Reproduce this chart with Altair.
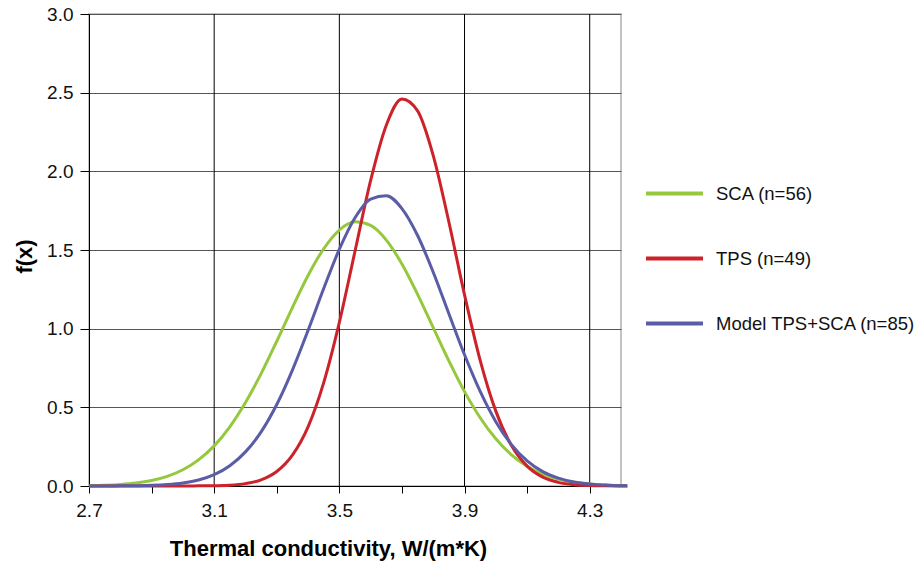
import altair as alt
import pandas as pd

x_vals = [2.70, 2.75, 2.80, 2.85, 2.90, 2.95, 3.00, 3.05, 3.10, 3.15, 3.20, 3.25,
          3.30, 3.35, 3.40, 3.45, 3.50, 3.55, 3.60, 3.65, 3.70, 3.75, 3.80, 3.85,
          3.90, 3.95, 4.00, 4.05, 4.10, 4.15, 4.20, 4.25, 4.30, 4.35, 4.40, 4.42]

sca = [0.002, 0.005, 0.010, 0.019, 0.035, 0.061, 0.103, 0.166, 0.255, 0.376, 0.530, 0.714,
       0.920, 1.134, 1.338, 1.508, 1.627, 1.679, 1.656, 1.563, 1.411, 1.218, 1.006, 0.795,
       0.600, 0.434, 0.300, 0.198, 0.125, 0.076, 0.044, 0.024, 0.013, 0.006, 0.003, 0.002]

tps = [0.000, 0.000, 0.000, 0.000, 0.000, 0.000, 0.000, 0.001, 0.002, 0.005, 0.015, 0.039,
       0.092, 0.196, 0.376, 0.657, 1.040, 1.492, 1.942, 2.293, 2.460, 2.384, 2.100, 1.678,
       1.215, 0.799, 0.476, 0.257, 0.126, 0.056, 0.023, 0.008, 0.003, 0.001, 0.000, 0.000]

model = [0.000, 0.000, 0.001, 0.002, 0.004, 0.009, 0.019, 0.038, 0.072, 0.129, 0.217, 0.344,
         0.518, 0.737, 0.989, 1.255, 1.505, 1.705, 1.824, 1.845, 1.763, 1.592, 1.359, 1.095,
         0.834, 0.601, 0.409, 0.263, 0.159, 0.091, 0.050, 0.025, 0.012, 0.006, 0.002, 0.002]

series_names = ["SCA (n=56)", "TPS (n=49)", "Model TPS+SCA (n=85)"]
series_colors = ["#95c83c", "#cc2229", "#5a5ca6"]

x_ticks = [2.7, 2.9, 3.1, 3.3, 3.5, 3.7, 3.9, 4.1, 4.3]
x_labels = ["2.7", "3.1", "3.5", "3.9", "4.3"]
x_grid = [3.1, 3.5, 3.9, 4.3]
y_ticks = [0.0, 0.5, 1.0, 1.5, 2.0, 2.5, 3.0]

rows = []
for name, vals in zip(series_names, [sca, tps, model]):
    for i, (x, y) in enumerate(zip(x_vals, vals)):
        rows.append({"x": x, "y": y, "series": name, "order": i})
df = pd.DataFrame(rows)

label_list = ",".join("'" + s + "'" for s in x_labels)
label_expr = f"indexof([{label_list}], format(datum.value, '.1f')) >= 0 ? format(datum.value, '.1f') : ''"

FONT = "Liberation Sans"

xscale = alt.Scale(domain=[2.7, 4.4], nice=False, zero=False)
yscale = alt.Scale(domain=[0, 3], nice=False)

grid = alt.Chart(pd.DataFrame({"g": x_grid})).mark_rule(color="#000000", strokeWidth=1).encode(
    x=alt.X("g:Q", scale=xscale)
)

lines = alt.Chart(df).mark_line(strokeWidth=3, clip=False, interpolate="monotone").encode(
    x=alt.X("x:Q", scale=xscale,
            axis=alt.Axis(values=x_ticks, labelExpr=label_expr, grid=False,
                          title="Thermal conductivity, W/(m*K)",
                          titleFont=FONT, titleFontSize=22, titleFontWeight="bold",
                          titleColor="#000", titleX=239, titleY=62, titleBaseline="middle",
                          titleAlign="center",
                          labelFont=FONT, labelFontSize=19, labelColor="#111",
                          labelPadding=8, tickSize=7, tickColor="#000", domainColor="#000",
                          labelFlush=False, labelOverlap=False)),
    y=alt.Y("y:Q", scale=yscale,
            axis=alt.Axis(values=y_ticks, format=".1f", grid=True, gridColor="#555555",
                          title="f(x)", titleFont=FONT, titleFontSize=22, titleFontWeight="bold",
                          titleColor="#000", titleX=-65, titleY=242, titleBaseline="middle",
                          titleAlign="center",
                          labelFont=FONT, labelFontSize=19, labelColor="#111",
                          labelPadding=7, tickSize=9, tickColor="#000", domainColor="#000",
                          labelFlush=False, labelOverlap=False)),
    color=alt.Color("series:N",
                    scale=alt.Scale(domain=series_names, range=series_colors),
                    sort=series_names,
                    legend=alt.Legend(title=None, orient="none", legendX=555, legendY=149,
                                      symbolType="stroke", symbolSize=3249, symbolStrokeWidth=4,
                                      labelFont=FONT, labelFontSize=18.5, labelColor="#111",
                                      labelOffset=11, rowPadding=25, labelLimit=400)),
    order=alt.Order("order:Q"),
    detail="series:N",
)

chart = alt.layer(grid, lines).properties(
    width=532, height=472,
    autosize=alt.AutoSizeParams(type="none"),
    padding={"left": 89, "top": 14, "right": 295, "bottom": 84},
    background="white",
).configure_view(stroke="#b0b0b0", strokeWidth=1.5)

chart.save("out.html", embed_options={"renderer": "svg", "actions": False})
